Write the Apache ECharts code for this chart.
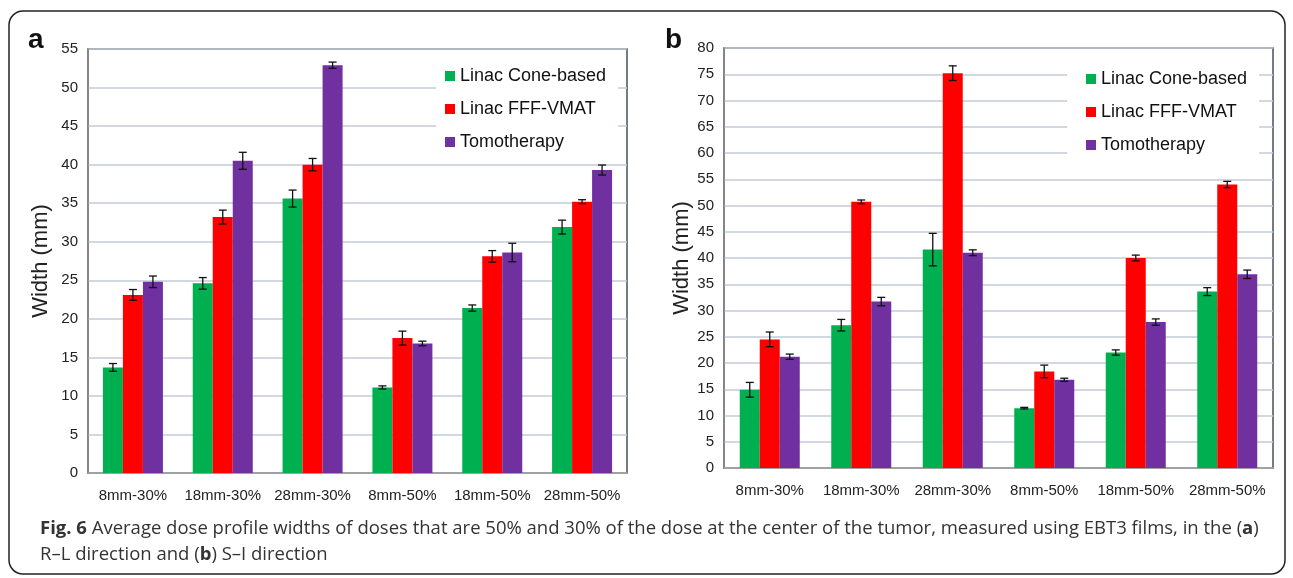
<!DOCTYPE html>
<html>
<head>
<meta charset="utf-8">
<script src="https://cdn.jsdelivr.net/npm/echarts@6/dist/echarts.min.js"></script>
<style>
html,body{margin:0;padding:0;background:#fff;}
#main{width:1293px;height:578px;}
</style>
</head>
<body>
<div id="main"></div>
<script>
// ---- data ----
const categories = ['8mm-30%', '18mm-30%', '28mm-30%', '8mm-50%', '18mm-50%', '28mm-50%'];
const seriesNames = ['Linac Cone-based', 'Linac FFF-VMAT', 'Tomotherapy'];

// Panel a: R–L direction
const aCone = [13.7, 24.6, 35.6, 11.1, 21.4, 31.9];
const aVmat = [23.1, 33.2, 40.0, 17.5, 28.1, 35.2];
const aTomo = [24.8, 40.5, 52.9, 16.8, 28.6, 39.3];
const aConeErr = [0.5, 0.75, 1.1, 0.2, 0.4, 0.9];
const aVmatErr = [0.7, 0.9, 0.8, 0.9, 0.75, 0.25];
const aTomoErr = [0.75, 1.1, 0.4, 0.3, 1.2, 0.65];

// Panel b: S–I direction
const bCone = [14.9, 27.2, 41.6, 11.4, 22.0, 33.6];
const bVmat = [24.5, 50.7, 75.2, 18.4, 40.0, 54.0];
const bTomo = [21.2, 31.7, 41.0, 16.8, 27.8, 36.9];
const bConeErr = [1.4, 1.1, 3.1, 0.15, 0.5, 0.75];
const bVmatErr = [1.4, 0.35, 1.4, 1.2, 0.55, 0.6];
const bTomoErr = [0.5, 0.8, 0.55, 0.3, 0.6, 0.8];

const aTicks = {min: 0, max: 55, interval: 5};
const bTicks = {min: 0, max: 80, interval: 5};

const captionLine1 = '{b|Fig. 6} Average dose profile widths of doses that are 50% and 30% of the dose at the center of the tumor, measured using EBT3 films, in the ({b|a})';
const captionLine2 = 'R\u2013L direction and ({b|b}) S\u2013I direction';

// ---- styles ----
const colors = ['#00B050', '#FF0000', '#7030A0'];
const BW = 20;
const FONT = '"Liberation Sans", Arial, sans-serif';
const CAP_FONT = '"Open Sans", sans-serif';
const CAP_SIZE = 18.5;

function errData(errs, vals) {
  const out = [];
  for (let k = 0; k < 3; k++) {
    for (let i = 0; i < categories.length; i++) {
      out.push([i, vals[k][i], errs[k][i], k]);
    }
  }
  return out;
}

function renderErr(params, api) {
  const cat = api.value(0), v = api.value(1), e = api.value(2), k = api.value(3);
  const c = api.coord([cat, v]);
  const t = api.coord([cat, v + e]);
  const b = api.coord([cat, v - e]);
  const x = c[0] + (k - 1) * BW;
  const st = {stroke: '#111', lineWidth: 1.3};
  return {
    type: 'group',
    children: [
      {type: 'line', shape: {x1: x, y1: t[1], x2: x, y2: b[1]}, style: st},
      {type: 'line', shape: {x1: x - 4, y1: t[1], x2: x + 4, y2: t[1]}, style: st},
      {type: 'line', shape: {x1: x - 4, y1: b[1], x2: x + 4, y2: b[1]}, style: st}
    ]
  };
}

function xAxis(gi) {
  return {
    type: 'category', gridIndex: gi, data: categories,
    axisTick: {show: false},
    axisLine: {lineStyle: {color: '#9a9a9a', width: 1.5}},
    axisLabel: {color: '#222', fontFamily: FONT, fontSize: 15, margin: 15, interval: 0}
  };
}
function yAxis(gi, t, gap) {
  return {
    type: 'value', gridIndex: gi, min: t.min, max: t.max, interval: t.interval,
    name: 'Width (mm)', nameLocation: 'middle', nameGap: gap,
    nameTextStyle: {color: '#222', fontFamily: FONT, fontSize: 22},
    axisLine: {show: true, lineStyle: {color: '#8a8a8a', width: 1.5}},
    axisTick: {show: false},
    axisLabel: {color: '#222', fontFamily: FONT, fontSize: 15, margin: 10},
    splitLine: {lineStyle: {color: '#c3cbd9', width: 1.5}}
  };
}
function bars(gi, vals) {
  return vals.map((d, k) => ({
    type: 'bar', name: seriesNames[k], xAxisIndex: gi, yAxisIndex: gi,
    data: d, barWidth: BW, barGap: '0%',
    itemStyle: {color: colors[k]}, z: 2
  }));
}
function legend(left, top, pad) {
  return {
    data: seriesNames.map((n, k) => ({name: n, itemStyle: {color: colors[k]}})),
    orient: 'vertical', left: left, top: top, padding: pad,
    backgroundColor: '#fff', icon: 'rect', itemWidth: 10, itemHeight: 10,
    itemGap: 13, selectedMode: false,
    textStyle: {color: '#111', fontFamily: FONT, fontSize: 18, lineHeight: 20}
  };
}

const chart = echarts.init(document.getElementById('main'), null, {renderer: 'canvas'});
const option = {
  animation: false,
  backgroundColor: '#fff',
  grid: [
    {left: 88, top: 49, width: 539, height: 424, show: true, borderColor: '#4a4f58', borderWidth: 1.5, backgroundColor: '#fff'},
    {left: 724, top: 48, width: 549, height: 420, show: true, borderColor: '#4a4f58', borderWidth: 1.5, backgroundColor: '#fff'}
  ],
  xAxis: [xAxis(0), xAxis(1)],
  yAxis: [yAxis(0, aTicks, 36), yAxis(1, bTicks, 29)],
  legend: [legend(436, 58, [8, 12, 8, 9]), legend(1067, 61, [8, 12, 8, 19])],
  series: [
    ...bars(0, [aCone, aVmat, aTomo]),
    ...bars(1, [bCone, bVmat, bTomo]),
    {type: 'custom', xAxisIndex: 0, yAxisIndex: 0, renderItem: renderErr, z: 5,
     encode: {x: 0, y: 1}, data: errData([aConeErr, aVmatErr, aTomoErr], [aCone, aVmat, aTomo])},
    {type: 'custom', xAxisIndex: 1, yAxisIndex: 1, renderItem: renderErr, z: 5,
     encode: {x: 0, y: 1}, data: errData([bConeErr, bVmatErr, bTomoErr], [bCone, bVmat, bTomo])}
  ],
  graphic: [
    {type: 'rect', shape: {x: 9, y: 11, width: 1276, height: 563, r: 14}, silent: true, z: -10,
     style: {fill: 'none', stroke: '#222', lineWidth: 1.5}},
    {type: 'text', left: 28, top: 26, style: {text: 'a', font: 'bold 28px ' + FONT, fill: '#111'}},
    {type: 'text', left: 665, top: 26, style: {text: 'b', font: 'bold 28px ' + FONT, fill: '#111'}},
    {type: 'text', left: 40, top: 519, style: {
      text: captionLine1, fontFamily: CAP_FONT, fontSize: CAP_SIZE, fill: '#333',
      rich: {b: {fontFamily: CAP_FONT, fontSize: CAP_SIZE, fontWeight: 'bold', fill: '#333'}}}},
    {type: 'text', left: 40, top: 545, style: {
      text: captionLine2, fontFamily: CAP_FONT, fontSize: CAP_SIZE, fill: '#333',
      rich: {b: {fontFamily: CAP_FONT, fontSize: CAP_SIZE, fontWeight: 'bold', fill: '#333'}}}}
  ]
};
chart.setOption(option);
</script>
</body>
</html>
